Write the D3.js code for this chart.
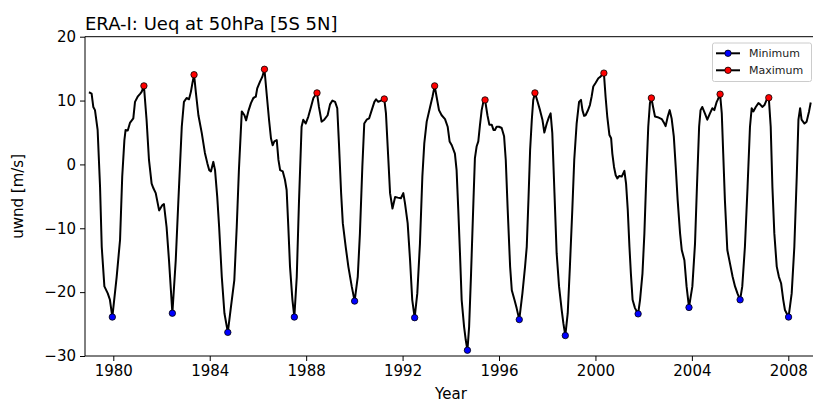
<!DOCTYPE html>
<html>
<head>
<meta charset="utf-8">
<script src="https://cdn.jsdelivr.net/npm/d3@7"></script>
<style>
  html, body { margin: 0; padding: 0; background: #fff; }
  svg { display: block; font-family: "DejaVu Sans", sans-serif; }
</style>
</head>
<body>
<svg id="chart" width="813" height="405"></svg>
<script>
// ---- data ----
const years = [
  1978.99,1979.10,1979.17,1979.24,1979.35,1979.45,1979.52,1979.63,1979.77,1979.86,1979.96,
  1980.14,1980.28,1980.37,1980.46,1980.51,1980.60,1980.69,1980.83,1980.90,1981.01,1981.12,1981.18,1981.27,
  1981.38,1981.48,1981.59,1981.66,1981.76,1981.90,1982.03,1982.10,1982.21,1982.31,1982.45,
  1982.59,1982.70,1982.84,1982.93,1983.04,1983.14,1983.22,1983.28,1983.35,
  1983.43,1983.53,1983.67,1983.80,1983.90,1983.98,1984.05,1984.15,1984.22,1984.31,1984.39,1984.50,1984.61,1984.75,
  1984.88,1985.02,1985.12,1985.21,1985.33,1985.44,1985.51,1985.60,1985.71,1985.81,1985.91,1985.97,1986.09,1986.18,1986.27,
  1986.36,1986.46,1986.54,1986.61,1986.68,1986.78,1986.85,1986.92,1987.03,1987.12,1987.19,1987.26,1987.33,1987.43,1987.51,
  1987.61,1987.70,1987.81,1987.88,1987.98,1988.09,1988.20,1988.30,1988.45,
  1988.53,1988.64,1988.75,1988.89,1988.99,1989.09,1989.20,1989.29,1989.36,1989.45,1989.52,1989.64,1989.75,1989.89,1990.01,
  1990.14,1990.23,1990.33,1990.41,1990.51,1990.61,1990.72,1990.83,1990.90,1990.99,1991.10,1991.24,
  1991.31,1991.41,1991.48,1991.58,1991.69,1991.80,1991.93,1992.03,1992.10,1992.21,1992.31,1992.40,1992.50,
  1992.61,1992.72,1992.82,1992.90,1993.00,1993.14,1993.24,1993.33,
  1993.41,1993.51,1993.62,1993.76,1993.87,1993.95,1994.04,1994.17,1994.24,1994.31,1994.38,1994.45,1994.55,1994.62,1994.69,
  1994.76,1994.84,1994.94,1995.00,1995.07,1995.14,1995.21,1995.28,1995.35,1995.42,
  1995.52,1995.60,1995.70,1995.77,1995.83,1995.90,1996.00,1996.11,1996.21,1996.28,1996.36,1996.46,1996.53,1996.64,1996.73,1996.84,
  1996.97,1997.08,1997.15,1997.22,1997.29,1997.36,1997.42,1997.49,
  1997.60,1997.70,1997.80,1997.88,1997.98,1998.07,1998.14,1998.21,1998.30,1998.39,1998.49,1998.60,1998.67,1998.75,
  1998.85,1998.94,1999.04,1999.12,1999.22,1999.32,1999.40,1999.46,1999.53,1999.59,1999.68,1999.77,1999.84,1999.91,
  2000.01,2000.12,2000.20,2000.27,2000.35,
  2000.42,2000.49,2000.58,2000.65,2000.70,2000.77,2000.84,2000.91,2000.99,2001.09,2001.20,2001.27,2001.34,2001.41,2001.47,2001.54,2001.64,2001.77,
  2001.85,2001.95,2002.03,2002.11,2002.19,2002.26,2002.32,
  2002.39,2002.47,2002.58,2002.75,2002.86,2002.91,2003.00,2003.08,2003.16,2003.25,2003.33,2003.41,2003.51,2003.58,2003.69,2003.78,2003.88,
  2004.02,2004.13,2004.21,2004.30,2004.36,2004.43,2004.54,2004.64,2004.75,2004.85,2004.93,2005.03,2005.07,2005.17,
  2005.24,2005.30,2005.37,2005.47,2005.58,2005.69,2005.79,2005.89,2006.00,
  2006.09,2006.20,2006.31,2006.41,2006.48,2006.55,2006.65,2006.76,2006.83,2006.92,2007.01,2007.10,2007.19,
  2007.27,2007.34,2007.42,2007.52,2007.61,2007.70,2007.79,2007.86,2008.01,
  2008.14,2008.25,2008.35,2008.42,2008.49,2008.55,2008.67,2008.76,2008.86,2008.93
];
const uwnd = [
  11.3,11.1,9.0,8.5,5.4,-3.5,-12.9,-19.1,-20.2,-21.2,-23.9,
  -17.6,-11.8,-1.9,3.8,5.4,5.3,6.5,7.2,9.8,10.6,11.1,11.4,12.3,
  7.0,0.7,-3.0,-3.7,-4.5,-7.2,-6.4,-6.2,-9.8,-15.0,-23.3,
  -15.0,-5.6,5.9,9.8,10.4,10.2,11.4,12.7,14.05,
  11.1,7.7,4.9,1.8,0.2,-0.9,-1.1,0.4,-0.9,-5.0,-9.8,-17.6,-23.3,-26.3,
  -22.3,-18.1,-9.8,-0.9,8.3,7.7,6.9,8.3,9.6,10.4,10.6,11.9,13.0,13.7,14.9,
  11.1,7.0,4.1,3.0,3.6,3.8,0.7,-0.9,-1.1,-2.4,-4.0,-9.8,-16.0,-21.2,-23.9,
  -17.6,-6.1,5.9,7.0,6.4,7.5,9.0,10.4,11.2,
  9.0,6.7,7.0,7.7,9.4,10.0,9.8,8.8,3.3,-4.5,-9.2,-12.9,-16.0,-19.1,-21.4,
  -17.6,-10.8,-0.4,6.4,7.0,7.2,8.5,9.8,10.2,9.8,10.0,10.25,
  8.0,0.7,-4.5,-6.9,-5.1,-5.2,-5.3,-4.5,-6.1,-9.2,-15.0,-21.2,-24.0,
  -20.2,-12.4,-1.9,3.3,6.7,9.0,10.6,12.3,
  10.6,8.5,7.7,7.1,5.9,3.6,3.0,1.7,-0.9,-7.1,-13.9,-21.2,-25.4,-27.5,-29.1,
  -25.4,-17.1,-5.6,1.0,2.8,3.6,6.2,8.5,9.8,10.1,
  7.7,6.2,6.2,5.4,5.4,5.9,5.9,5.7,4.4,0.7,-7.1,-16.0,-19.7,-21.2,-22.5,-24.3,
  -20.2,-16.0,-12.9,-5.6,2.3,7.0,10.1,11.2,
  9.8,8.5,7.0,5.0,6.4,7.4,8.0,4.9,-4.5,-13.9,-19.1,-22.8,-24.9,-26.8,
  -23.3,-16.0,-7.1,0.7,6.4,9.8,10.1,8.5,7.6,7.7,8.4,9.3,10.6,12.2,
  12.8,13.5,13.7,14.0,14.3,
  10.6,7.5,4.6,4.1,1.7,-0.4,-1.7,-2.2,-1.8,-1.9,-1.0,-3.0,-7.1,-12.9,-17.1,-21.2,-22.5,-23.4,
  -21.2,-17.1,-10.8,-1.9,5.9,9.6,10.4,
  9.0,7.5,7.4,7.1,6.4,6.0,7.5,8.5,7.2,4.4,-0.4,-5.6,-10.8,-13.4,-15.0,-19.1,-22.4,
  -19.1,-12.4,-3.5,5.9,8.5,9.0,8.0,7.0,8.0,8.8,8.5,9.8,10.1,11.0,
  8.0,1.7,-5.6,-13.4,-15.5,-17.6,-19.1,-20.2,-21.2,
  -19.1,-12.9,-3.5,5.9,8.8,8.3,9.0,9.6,9.4,9.0,9.3,10.1,10.45,
  5.9,-3.5,-10.8,-16.0,-17.6,-18.6,-21.2,-22.8,-23.9,
  -20.2,-12.9,-1.9,7.0,8.8,7.0,6.4,6.7,8.3,9.7
];
const minYears  = [1979.96,1982.45,1984.75,1987.51,1990.01,1992.50,1994.69,1996.84,1998.75,2001.77,2003.88,2006.00,2008.01];
const minValues = [-23.9,-23.3,-26.3,-23.9,-21.4,-24.0,-29.1,-24.3,-26.8,-23.4,-22.4,-21.2,-23.9];
const maxYears  = [1981.27,1983.35,1986.27,1988.45,1991.24,1993.33,1995.42,1997.49,2000.35,2002.32,2005.17,2007.19];
const maxValues = [12.3,14.05,14.9,11.2,10.25,12.3,10.1,11.2,14.3,10.4,11.0,10.45];
const xTicks = [1980,1984,1988,1992,1996,2000,2004,2008];
const yTicks = [20,10,0,-10,-20,-30];
const titleText = "ERA-I: Ueq at 50hPa [5S 5N]";
const xLabel = "Year";
const yLabel = "uwnd [m/s]";
const legendLabels = ["Minimum","Maximum"];

// ---- layout ----
const svg = d3.select("#chart");
const L = 85, R = 817, T = 36.7, B = 356;
const x = d3.scaleLinear().domain([1978.826, 2009.19]).range([L, R]);
const y = d3.scaleLinear().domain([-30, 20]).range([B, T]);

const fmt = d => (d < 0 ? "\u2212" + Math.abs(d) : String(d));

// axes
const xAxis = d3.axisBottom(x).tickValues(xTicks).tickFormat(d3.format("d")).tickSizeOuter(0).tickSize(5).tickPadding(4);
const yAxis = d3.axisLeft(y).tickValues(yTicks).tickFormat(fmt).tickSizeOuter(0).tickSize(5).tickPadding(4);

const gx = svg.append("g").attr("transform", `translate(0,${B})`).call(xAxis);
const gy = svg.append("g").attr("transform", `translate(${L},0)`).call(yAxis);
[gx, gy].forEach(g => {
  g.select(".domain").remove();
  g.selectAll(".tick line").attr("stroke", "#000").attr("stroke-width", 1);
  g.selectAll(".tick text").attr("fill", "#000").style("font-size", "15px").style("font-family", "DejaVu Sans, sans-serif");
});

// spines
svg.append("line").attr("x1", L).attr("x2", L).attr("y1", T).attr("y2", B).attr("stroke", "#000").attr("stroke-width", 1);
svg.append("line").attr("x1", L).attr("x2", R).attr("y1", B).attr("y2", B).attr("stroke", "#000").attr("stroke-width", 1);
svg.append("line").attr("x1", L).attr("x2", R).attr("y1", T).attr("y2", T).attr("stroke", "#000").attr("stroke-width", 1);
svg.append("line").attr("x1", R).attr("x2", R).attr("y1", T).attr("y2", B).attr("stroke", "#000").attr("stroke-width", 1);

// series line
const data = years.map((t, i) => ({ t, v: uwnd[i] }));
const line = d3.line().x(d => x(d.t)).y(d => y(d.v));
svg.append("path").datum(data).attr("d", line)
  .attr("fill", "none").attr("stroke", "#000").attr("stroke-width", 2).attr("stroke-linejoin", "round");

// min / max markers
svg.append("g").selectAll("circle").data(minYears.map((t, i) => ({ t, v: minValues[i] })))
  .join("circle").attr("cx", d => x(d.t)).attr("cy", d => y(d.v)).attr("r", 3.2)
  .attr("fill", "#0000ff").attr("stroke", "#000").attr("stroke-width", 0.8);
svg.append("g").selectAll("circle").data(maxYears.map((t, i) => ({ t, v: maxValues[i] })))
  .join("circle").attr("cx", d => x(d.t)).attr("cy", d => y(d.v)).attr("r", 3.2)
  .attr("fill", "#ff0000").attr("stroke", "#000").attr("stroke-width", 0.8);

// title and labels
svg.append("text").attr("x", L).attr("y", 30).attr("font-size", 18).attr("fill", "#000").text(titleText);
svg.append("text").attr("x", (L + R) / 2).attr("y", 399).attr("text-anchor", "middle").attr("font-size", 15).attr("fill", "#000").text(xLabel);
svg.append("text").attr("transform", `translate(23,${(T + B) / 2}) rotate(-90)`).attr("text-anchor", "middle")
  .attr("font-size", 15).attr("fill", "#000").text(yLabel);

// legend
const lg = svg.append("g");
lg.append("rect").attr("x", 712.5).attr("y", 43).attr("width", 99).attr("height", 38.5).attr("rx", 2)
  .attr("fill", "#fff").attr("fill-opacity", 0.8).attr("stroke", "#ccc").attr("stroke-width", 1);
const legendColors = ["#0000ff", "#ff0000"];
legendLabels.forEach((lab, i) => {
  const ly = 53.3 + i * 17;
  lg.append("line").attr("x1", 716).attr("x2", 740).attr("y1", ly).attr("y2", ly).attr("stroke", "#000").attr("stroke-width", 2);
  lg.append("circle").attr("cx", 728).attr("cy", ly).attr("r", 3.2).attr("fill", legendColors[i]).attr("stroke", "#000").attr("stroke-width", 0.8);
  lg.append("text").attr("x", 749).attr("y", ly + 4).attr("font-size", 11).attr("fill", "#222").text(lab);
});
</script>
</body>
</html>
